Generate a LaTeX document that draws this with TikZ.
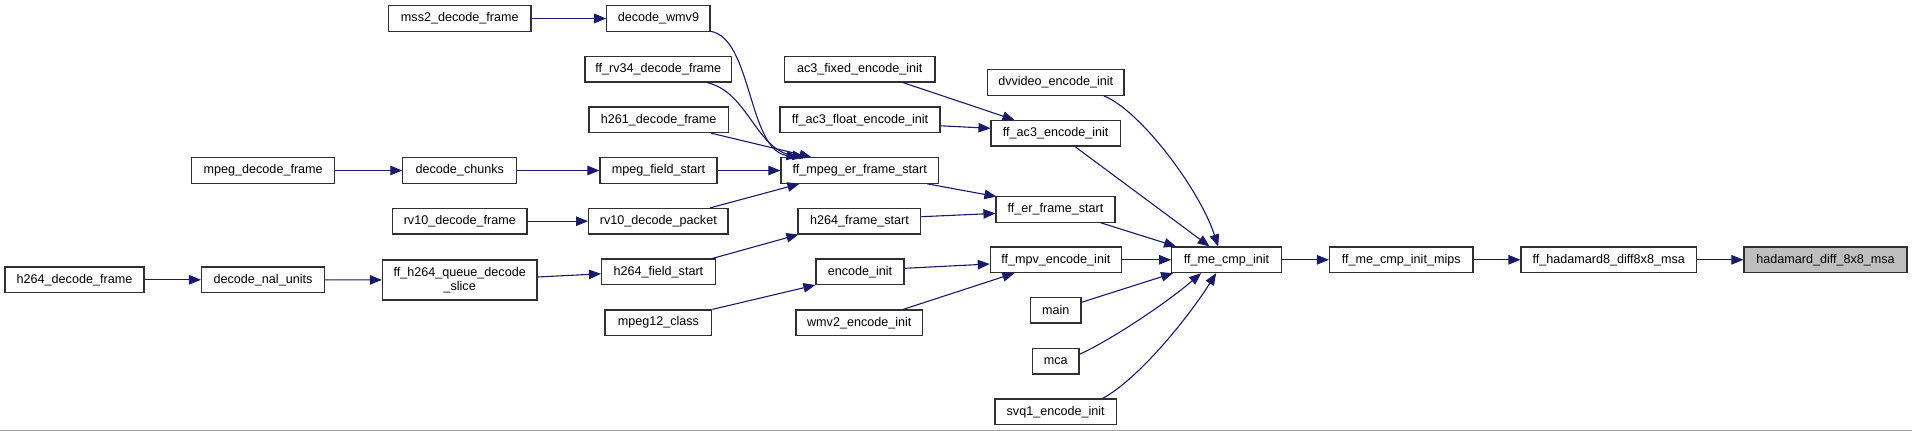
\documentclass[tikz,border=0pt]{standalone}
\usepackage{fontspec}
\setmainfont{Liberation Sans}
\usetikzlibrary{arrows.meta,calc}
\definecolor{edgeblue}{HTML}{191970}
\definecolor{boxline}{HTML}{303030}
\definecolor{hlgray}{HTML}{BFBFBF}
\definecolor{rulegray}{HTML}{A0A0A0}
\tikzset{
  fn/.style={draw=boxline, line width=1.15pt, fill=white, rectangle, inner sep=0pt,
    minimum height=25.5pt, font=\fontsize{12.6}{14}\selectfont, align=center},
  fnhl/.style={fn, fill=hlgray},
  edge/.style={draw=edgeblue, line width=1.1pt, -{Triangle[length=12pt,width=9.5pt]}}
}
\begin{document}
\begin{tikzpicture}[x=1pt,y=-1pt]
\useasboundingbox (0,0) rectangle (1912,431);
\fill[white] (0,0) rectangle (1912,431);
\draw[rulegray, line width=1pt] (0,430.5) -- (1912,430.5);

% nodes
\node[fn, minimum width=142.4pt] (mss2) at (459.8,18.5) {mss2\_decode\_frame};
\node[fn, minimum width=103.2pt] (wmv9) at (658.4,18.5) {decode\_wmv9};
\node[fn, minimum width=146.7pt] (rv34) at (658.3,69.3) {ff\_rv34\_decode\_frame};
\node[fn, minimum width=139.3pt] (h261) at (658.7,119.8) {h261\_decode\_frame};
\node[fn, minimum width=142.9pt] (mpegdec) at (263.2,170.5) {mpeg\_decode\_frame};
\node[fn, minimum width=113.8pt] (chunks) at (459.8,170.5) {decode\_chunks};
\node[fn, minimum width=117pt] (mfs) at (658.5,170.5) {mpeg\_field\_start};
\node[fn, minimum width=157.6pt] (mpegER) at (859.8,170.5) {ff\_mpeg\_er\_frame\_start};
\node[fn, minimum width=134.3pt] (rv10f) at (459.8,221.2) {rv10\_decode\_frame};
\node[fn, minimum width=139.4pt] (rv10p) at (658.3,221.2) {rv10\_decode\_packet};
\node[fn, minimum width=122.8pt] (h264frame) at (859.4,221.2) {h264\_frame\_start};
\node[fn, minimum width=139.1pt] (h264dec) at (74.5,279.8) {h264\_decode\_frame};
\node[fn, minimum width=122.9pt] (nal) at (263,279.8) {decode\_nal\_units};
\node[fn, minimum width=154.6pt, minimum height=40pt] (queue) at (459.7,280) {ff\_h264\_queue\_decode\\\_slice};
\node[fn, minimum width=113.7pt] (h264field) at (658.4,271.8) {h264\_field\_start};
\node[fn, minimum width=88.1pt] (encinit) at (860,271.7) {encode\_init};
\node[fn, minimum width=106.8pt] (mpeg12) at (658.4,322.7) {mpeg12\_class};
\node[fn, minimum width=126.6pt] (wmv2) at (859.3,322.7) {wmv2\_encode\_init};
\node[fn, minimum width=150.3pt] (ac3fixed) at (859.8,69.3) {ac3\_fixed\_encode\_init};
\node[fn, minimum width=160pt] (ac3float) at (860,119.8) {ff\_ac3\_float\_encode\_init};
\node[fn, minimum width=136.5pt] (dvvideo) at (1055.7,82.6) {dvvideo\_encode\_init};
\node[fn, minimum width=129.3pt] (ac3enc) at (1055.7,133.3) {ff\_ac3\_encode\_init};
\node[fn, minimum width=119pt] (fferstart) at (1055.5,209.4) {ff\_er\_frame\_start};
\node[fn, minimum width=131pt] (mpv) at (1055.8,259.8) {ff\_mpv\_encode\_init};
\node[fn, minimum width=109.6pt] (mecmp) at (1226.5,259.8) {ff\_me\_cmp\_init};
\node[fn, minimum width=50.3pt] (main) at (1055.8,310.3) {main};
\node[fn, minimum width=46.7pt] (mca) at (1055.7,361.2) {mca};
\node[fn, minimum width=121.4pt] (svq1) at (1055.7,411.8) {svq1\_encode\_init};
\node[fn, minimum width=143.5pt] (mips) at (1401.2,259.8) {ff\_me\_cmp\_init\_mips};
\node[fn, minimum width=175.3pt] (had8) at (1608.7,259.8) {ff\_hadamard8\_diff8x8\_msa};
\node[fnhl, minimum width=163pt] (hadmsa) at (1825.5,259.8) {hadamard\_diff\_8x8\_msa};

% straight horizontal chains
\draw[edge] (mss2) -- (wmv9);
\draw[edge] (mpegdec) -- (chunks);
\draw[edge] (chunks) -- (mfs);
\draw[edge] (mfs) -- (mpegER);
\draw[edge] (rv10f) -- (rv10p);
\draw[edge] (h264dec) -- (nal);
\draw[edge] (nal) -- (queue);
\draw[edge] ($(queue.east)+(0,-3)$) -- ($(h264field.west)+(0,2)$);
\draw[edge] (mpv) -- (mecmp);
\draw[edge] (mecmp) -- (mips);
\draw[edge] (mips) -- (had8);
\draw[edge] (had8) -- (hadmsa);

% into ff_mpeg_er_frame_start
\draw[edge] ($(wmv9.south east)+(0,-0.5)$) .. controls (752,38) and (748,150) .. ($(mpegER.north west)+(18,0)$);
\draw[edge] ($(rv34.south east)+(-25,0)$) .. controls (748,92) and (756,150) .. ($(mpegER.north west)+(24,0)$);
\draw[edge] ($(h261.south east)+(-18,0)$) -- ($(mpegER.north west)+(31,0)$);
\draw[edge] ($(rv10p.north east)+(-18.4,0)$) -- ($(mpegER.south west)+(19,0)$);

% h264 path
\draw[edge] ($(h264field.north east)+(-3.5,0)$) -- ($(h264frame.south west)+(1,0)$);
\draw[edge] ($(h264frame.east)+(0,-4.5)$) -- ($(fferstart.west)+(0,4)$);
\draw[edge] ($(mpegER.south east)+(-12,0)$) -- ($(fferstart.north west)+(1,0.5)$);

% ac3
\draw[edge] ($(ac3fixed.south east)+(-32.4,0)$) -- ($(ac3enc.north west)+(24,0)$);
\draw[edge] ($(ac3float.east)+(0,6)$) -- ($(ac3enc.west)+(0,-5)$);

% encoders
\draw[edge] ($(encinit.east)+(0,-3.4)$) -- ($(mpv.west)+(0,4.2)$);
\draw[edge] (mpeg12.north east) -- (encinit.south west);
\draw[edge] ($(wmv2.north east)+(-20,0)$) -- ($(mpv.south west)+(24.7,0)$);

% into ff_me_cmp_init
\draw[edge] ($(ac3enc.south)+(19.3,0)$) -- ($(mecmp.north west)+(38.5,0)$);
\draw[edge] ($(dvvideo.south east)+(-20.7,0)$) .. controls (1140,110) and (1200,190) .. ($(mecmp.north west)+(47,0)$);
\draw[edge] ($(fferstart.south east)+(-15,0)$) -- ($(mecmp.north west)+(5,0)$);
\draw[edge] ($(main.east)+(0,-8)$) -- ($(mecmp.south west)+(2,0)$);
\draw[edge] ($(mca.east)+(0,-7)$) .. controls (1115,338) and (1170,300) .. ($(mecmp.south west)+(30,0)$);
\draw[edge] ($(svq1.north east)+(-14.4,0)$) .. controls (1140,378) and (1190,315) .. ($(mecmp.south west)+(45,0)$);
\end{tikzpicture}
\end{document}
